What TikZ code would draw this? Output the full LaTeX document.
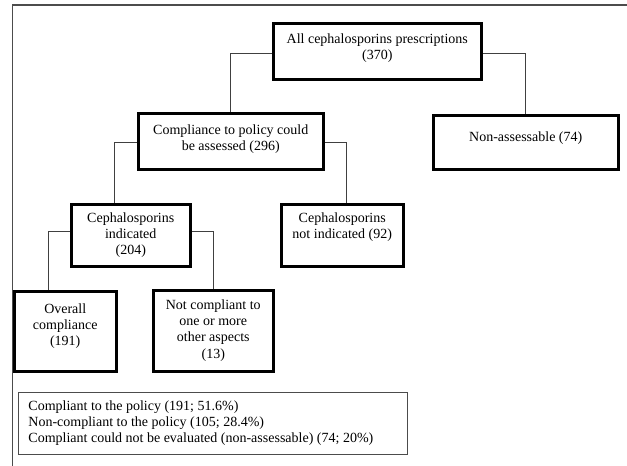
\documentclass[tikz,border=0pt]{standalone}
\usepackage{fontspec}
\setmainfont{Liberation Serif}
\newcommand\boxtext[4]{\parbox[c][#2pt][t]{#1pt}{\centering\rule{0pt}{#3pt}#4}}
\begin{document}
\begin{tikzpicture}[x=1pt,y=-1pt,
  fbox/.style={draw=black,line width=2.5pt,inner sep=0pt,anchor=north west,font=\fontsize{14}{16.3}\selectfont},
  legbox/.style={draw=black!70,line width=0.9pt,inner sep=0pt,anchor=north west,font=\fontsize{14}{15.8}\selectfont},
  conn/.style={draw=black!75,line width=0.9pt},
  frameline/.style={draw=black!70,line width=1.2pt}]
\useasboundingbox (0,0) rectangle (627,466);
\draw[frameline] (12.5,466) -- (12.5,5) -- (627,5);
\node[fbox] (top) at (272,22) {\boxtext{208}{56}{20}{All cephalosporins prescriptions\\(370)}};
\node[fbox] (comp) at (137,112) {\boxtext{185}{56}{21}{Compliance to policy could\\be assessed (296)}};
\node[fbox] (nonass) at (432,114) {\boxtext{185}{54}{26}{Non-assessable (74)}};
\node[fbox] (ind) at (70,203) {\boxtext{119}{62}{18}{Cephalosporins\\indicated\\(204)}};
\node[fbox] (notind) at (280,203) {\boxtext{122}{62}{18}{Cephalosporins\\not indicated (92)}};
\node[fbox] (overall) at (13,290) {\boxtext{102}{80}{22}{Overall\\compliance\\(191)}};
\node[fbox] (notcomp) at (152,289) {\boxtext{120}{81}{19}{Not compliant to\\one or more\\other aspects\\(13)}};
\node[legbox] (legend) at (18,392) {\parbox[c][62pt][t]{389pt}{\raggedright\leftskip=10pt\rule{0pt}{18pt}Compliant to the policy (191; 51.6\%)\\Non-compliant to the policy (105; 28.4\%)\\Compliant could not be evaluated (non-assessable) (74; 20\%)}};
\draw[conn] ([yshift=-2pt]top.west) -| (comp.north);
\draw[conn] ([yshift=-2pt]top.east) -| (nonass.north);
\draw[conn] ([yshift=-1pt]comp.west) -| ([xshift=-16pt]ind.north);
\draw[conn] ([yshift=-1pt]comp.east) -| ([xshift=4pt]notind.north);
\draw[conn] ([yshift=4pt]ind.west) -| ([xshift=-17pt]overall.north);
\draw[conn] ([yshift=4pt]ind.east) -| (notcomp.north);
\end{tikzpicture}
\end{document}
